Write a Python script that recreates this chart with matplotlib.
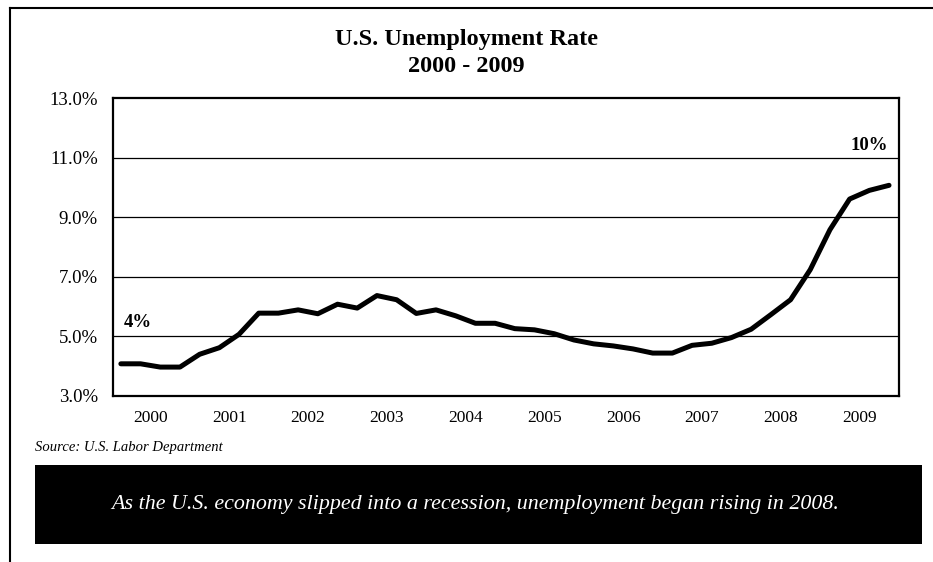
import numpy as np
import matplotlib
matplotlib.use('Agg')
import matplotlib.pyplot as plt
from matplotlib.patches import Rectangle
from matplotlib.lines import Line2D

plt.rcParams['font.family'] = ['Liberation Serif', 'DejaVu Serif']

# quarterly unemployment rate, 2000 Q1 .. 2009 Q4
years = list(range(2000, 2010))
rate = [4.08, 4.08, 3.97, 3.97,
        4.40, 4.62, 5.07, 5.78,
        5.78, 5.89, 5.76, 6.08,
        5.95, 6.37, 6.23, 5.77,
        5.89, 5.69, 5.44, 5.44,
        5.26, 5.22, 5.09, 4.88,
        4.75, 4.68, 4.58, 4.44,
        4.44, 4.70, 4.77, 4.96,
        5.24, 5.73, 6.23, 7.24,
        8.58, 9.61, 9.90, 10.07]
y_ticks = [3, 5, 7, 9, 11, 13]
y_labels = ['3.0%', '5.0%', '7.0%', '9.0%', '11.0%', '13.0%']

t = 2000 + np.arange(len(rate)) / 4

fig = plt.figure(figsize=(9.33, 5.62), dpi=100)
ax = fig.add_axes([0.1211, 0.2954, 0.8425, 0.5302])

ax.plot(t, rate, color='black', lw=3.6, solid_joinstyle='round', solid_capstyle='round', zorder=3)

ax.set_xlim(1999.90, 2009.877)
ax.set_ylim(3, 13)
ax.set_yticks(y_ticks)
ax.set_yticklabels(y_labels)
ax.set_xticks([y + 0.375 for y in years])
ax.set_xticklabels([str(y) for y in years])
ax.tick_params(length=0, labelsize=12.5)
ax.tick_params(axis='y', pad=11, labelsize=13.5)
ax.tick_params(axis='x', pad=10)
for v in y_ticks[1:-1]:
    ax.axhline(v, color='black', lw=0.9, zorder=1)
for s in ax.spines.values():
    s.set_linewidth(1.6)

ax.text(2000.22, 5.45, '4%', fontsize=13.5, fontweight='bold', ha='center', va='center')
ax.text(2009.5, 11.4, '10%', fontsize=13.5, fontweight='bold', ha='center', va='center')

fig.text(0.5, 1 - 40 / 562, 'U.S. Unemployment Rate', ha='center', va='center',
         fontsize=17.5, fontweight='bold')
fig.text(0.5, 1 - 66 / 562, '2000 - 2009', ha='center', va='center',
         fontsize=17.5, fontweight='bold')

fig.text(35 / 933, 1 - 448 / 562, 'Source: U.S. Labor Department', ha='left', va='center',
         fontsize=10.5, style='italic')

# black caption band
fig.patches.append(Rectangle((35 / 933, 1 - 544 / 562), 887 / 933, 79 / 562,
                             transform=fig.transFigure, facecolor='black', edgecolor='none'))
fig.text(475 / 933, 1 - 505 / 562,
         'As the U.S. economy slipped into a recession, unemployment began rising in 2008.',
         ha='center', va='center', fontsize=15.8, style='italic', color='white')

# outer frame (left and top edges)
fig.lines.append(Line2D([10 / 933, 10 / 933], [0, 1 - 8 / 562], transform=fig.transFigure,
                        color='black', lw=1.5))
fig.lines.append(Line2D([10 / 933, 1], [1 - 8 / 562, 1 - 8 / 562], transform=fig.transFigure,
                        color='black', lw=1.5))

fig.savefig('out.png', dpi=100, facecolor='white')
